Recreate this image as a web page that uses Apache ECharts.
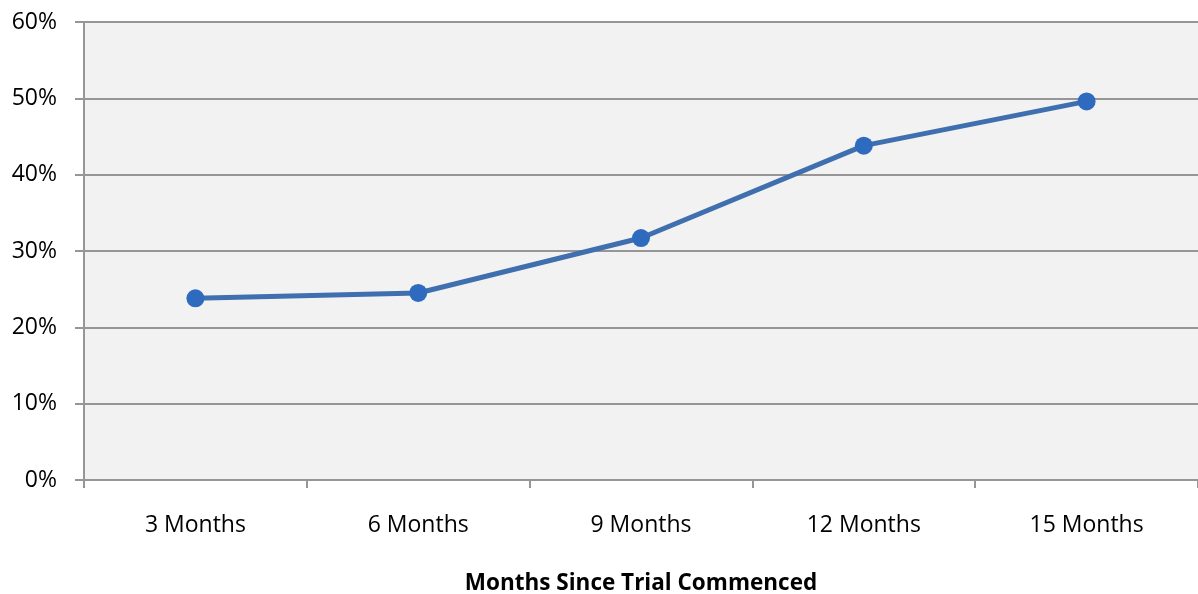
<!DOCTYPE html>
<html><head><meta charset="utf-8">
<script src="https://cdn.jsdelivr.net/npm/echarts@6/dist/echarts.min.js"></script>
<style>html,body{margin:0;padding:0;background:#fff}#c{width:1198px;height:594px}</style>
</head><body><div id="c"></div>
<script>
const categories = ['3 Months', '6 Months', '9 Months', '12 Months', '15 Months'];
const values = [23.8, 24.5, 31.7, 43.8, 49.6];
const yTicks = [0, 10, 20, 30, 40, 50, 60];
const axisTitle = 'Months Since Trial Commenced';

const chart = echarts.init(document.getElementById('c'), null, {renderer: 'canvas'});
chart.setOption({
  animation: false,
  backgroundColor: '#ffffff',
  grid: {left: 84, right: 0, top: 22, bottom: 114, containLabel: false, outerBoundsMode: 'none',
         show: true, backgroundColor: '#f2f2f2', borderWidth: 0},
  xAxis: {
    type: 'category', data: categories, boundaryGap: true,
    axisLine: {lineStyle: {color: '#969696', width: 2}},
    axisTick: {show: true, length: 8, lineStyle: {color: '#969696', width: 2}},
    axisLabel: {color: '#000', fontSize: 23, fontFamily: 'Open Sans', margin: 34},
    name: axisTitle, nameLocation: 'middle', nameGap: 92,
    nameTextStyle: {color: '#000', fontSize: 22.5, fontWeight: 'bold', fontFamily: 'Open Sans'}
  },
  yAxis: {
    type: 'value', min: yTicks[0], max: yTicks[yTicks.length - 1], interval: 10,
    axisLine: {show: true, lineStyle: {color: '#969696', width: 2}},
    axisTick: {show: true, length: 9, inside: false, lineStyle: {color: '#969696', width: 2}},
    splitLine: {show: true, lineStyle: {color: '#969696', width: 2}},
    axisLabel: {color: '#000', fontSize: 23, fontFamily: 'Open Sans', margin: 27, formatter: v => v + '%'}
  },
  series: [{
    type: 'line', data: values,
    lineStyle: {color: '#3f6faf', width: 5},
    symbol: 'circle', symbolSize: 18,
    itemStyle: {color: '#2e6bbf', borderWidth: 0}
  }]
});
</script></body></html>
